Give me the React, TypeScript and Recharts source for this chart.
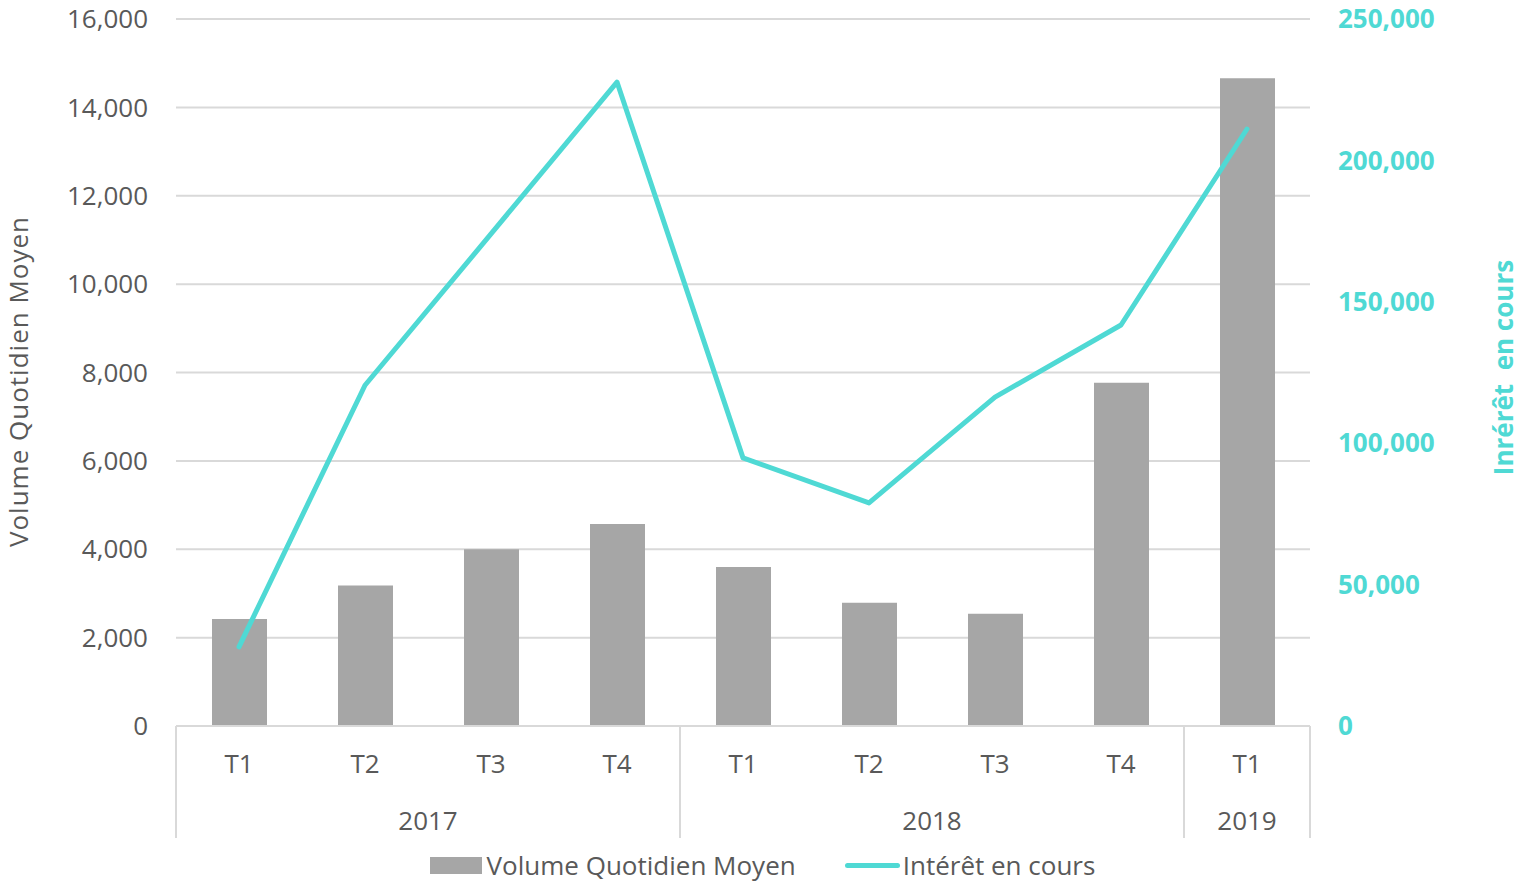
import React from 'react';
import { ComposedChart, Bar, Line, XAxis, YAxis, CartesianGrid, Legend, Label } from 'recharts';

const quarters = ['T1', 'T2', 'T3', 'T4', 'T1', 'T2', 'T3', 'T4', 'T1'];
const years = ['2017', '2017', '2017', '2017', '2018', '2018', '2018', '2018', '2019'];
const volume = [2420, 3180, 4000, 4570, 3600, 2790, 2540, 7770, 14660];
const interest = [28000, 120500, 174000, 227700, 94800, 78900, 116300, 141800, 211100];
const leftTicks = [0, 2000, 4000, 6000, 8000, 10000, 12000, 14000, 16000];
const rightTicks = [0, 50000, 100000, 150000, 200000, 250000];

const W = 1521;
const H = 882;
const LEFT_W = 176;
const RIGHT_W = 211;
const TOP = 19;
const AXIS_H = 112;
const LEGEND_H = 44;
const PLOT_BOTTOM = H - AXIS_H - LEGEND_H;
const BAND = (W - LEFT_W - RIGHT_W) / quarters.length;
const FS = 26;

const GREY = '#A6A6A6';
const TEAL = '#4FD9D4';
const TEXT = '#595959';
const GRID = '#D9D9D9';

const data = quarters.map((q, i) => ({
    q,
    year: years[i],
    volume: volume[i],
    interest: interest[i],
}));

const fmt = (v: number) => v.toLocaleString('en-US');

// two-level category labels: quarter on the first row, year under its group
const QuarterTick = (props: any) => {
    const { x, index } = props;
    const first = index === 0 || years[index - 1] !== years[index];
    const count = years.filter(y => y === years[index]).length;
    return (
        <g>
            <text x={x} y={PLOT_BOTTOM + 37} textAnchor="middle" dominantBaseline="central" fill={TEXT} fontSize={FS}>
                {quarters[index]}
            </text>
            {first && (
                <>
                    <line x1={x - BAND / 2} x2={x - BAND / 2} y1={PLOT_BOTTOM} y2={PLOT_BOTTOM + AXIS_H} stroke={GRID} strokeWidth={2} />
                    <text x={x + ((count - 1) * BAND) / 2} y={PLOT_BOTTOM + 94} textAnchor="middle" dominantBaseline="central" fill={TEXT} fontSize={FS}>
                        {years[index]}
                    </text>
                </>
            )}
            {index === years.length - 1 && (
                <line x1={x + BAND / 2} x2={x + BAND / 2} y1={PLOT_BOTTOM} y2={PLOT_BOTTOM + AXIS_H} stroke={GRID} strokeWidth={2} />
            )}
        </g>
    );
};

const LegendContent = () => (
    <div style={{ display: 'flex', justifyContent: 'center', alignItems: 'center', height: LEGEND_H, paddingTop: 10, paddingLeft: 4, boxSizing: 'border-box', fontSize: FS, color: TEXT }}>
        <span style={{ display: 'inline-block', width: 52, height: 17, background: GREY, marginRight: 5 }} />
        <span>Volume Quotidien Moyen</span>
        <span style={{ display: 'inline-block', width: 55, height: 5, borderRadius: 3, background: TEAL, marginLeft: 49, marginRight: 3 }} />
        <span>Intérêt en cours</span>
    </div>
);

export default function App() {
    return (
        <div style={{ position: 'absolute', left: 0, top: 0, width: W, height: H, fontFamily: "'Open Sans', sans-serif", background: '#fff' }}>
            <ComposedChart width={W} height={H} data={data} margin={{ top: TOP, right: 0, bottom: 0, left: 0 }}>
                <CartesianGrid yAxisId="left" vertical={false} stroke={GRID} strokeWidth={2} />
                <XAxis
                    dataKey="q"
                    height={AXIS_H}
                    interval={0}
                    tickLine={false}
                    axisLine={{ stroke: GRID, strokeWidth: 2 }}
                    tick={<QuarterTick />}
                />
                <YAxis
                    yAxisId="left"
                    width={LEFT_W}
                    domain={[0, 16000]}
                    ticks={leftTicks}
                    tickFormatter={fmt}
                    axisLine={false}
                    tickLine={false}
                    tickMargin={22}
                    tick={{ fill: TEXT, fontSize: FS }}
                >
                    <Label
                        content={(p: any) => {
                            const vb = p.viewBox;
                            const cx = vb.x + 18;
                            const cy = vb.y + vb.height / 2 + 9;
                            return (
                                <text x={cx} y={cy} transform={`rotate(-90 ${cx} ${cy})`} textAnchor="middle" dominantBaseline="central" fill={TEXT} fontSize={FS} letterSpacing={1}>
                                    Volume Quotidien Moyen
                                </text>
                            );
                        }}
                    />
                </YAxis>
                <YAxis
                    yAxisId="right"
                    orientation="right"
                    width={RIGHT_W}
                    domain={[0, 250000]}
                    ticks={rightTicks}
                    tickFormatter={fmt}
                    axisLine={false}
                    tickLine={false}
                    tickMargin={22}
                    tick={{ fill: TEAL, fontSize: FS, fontWeight: 'bold' }}
                >
                    <Label
                        content={(p: any) => {
                            const vb = p.viewBox;
                            const cx = vb.x + vb.width - 18;
                            const cy = vb.y + vb.height / 2 - 5;
                            return (
                                <text x={cx} y={cy} transform={`rotate(-90 ${cx} ${cy})`} textAnchor="middle" dominantBaseline="central" fill={TEAL} fontSize={FS} fontWeight="bold" style={{ whiteSpace: 'pre' }}>
                                    {'Inrérêt\u00A0 en cours'}
                                </text>
                            );
                        }}
                    />
                </YAxis>
                <Legend verticalAlign="bottom" height={LEGEND_H} content={<LegendContent />} />
                <Bar yAxisId="left" dataKey="volume" name="Volume Quotidien Moyen" fill={GREY} barSize={55} isAnimationActive={false} />
                <Line
                    yAxisId="right"
                    dataKey="interest"
                    name="Intérêt en cours"
                    type="linear"
                    stroke={TEAL}
                    strokeWidth={5}
                    strokeLinecap="round"
                    strokeLinejoin="round"
                    dot={false}
                    activeDot={false}
                    isAnimationActive={false}
                />
            </ComposedChart>
        </div>
    );
}
